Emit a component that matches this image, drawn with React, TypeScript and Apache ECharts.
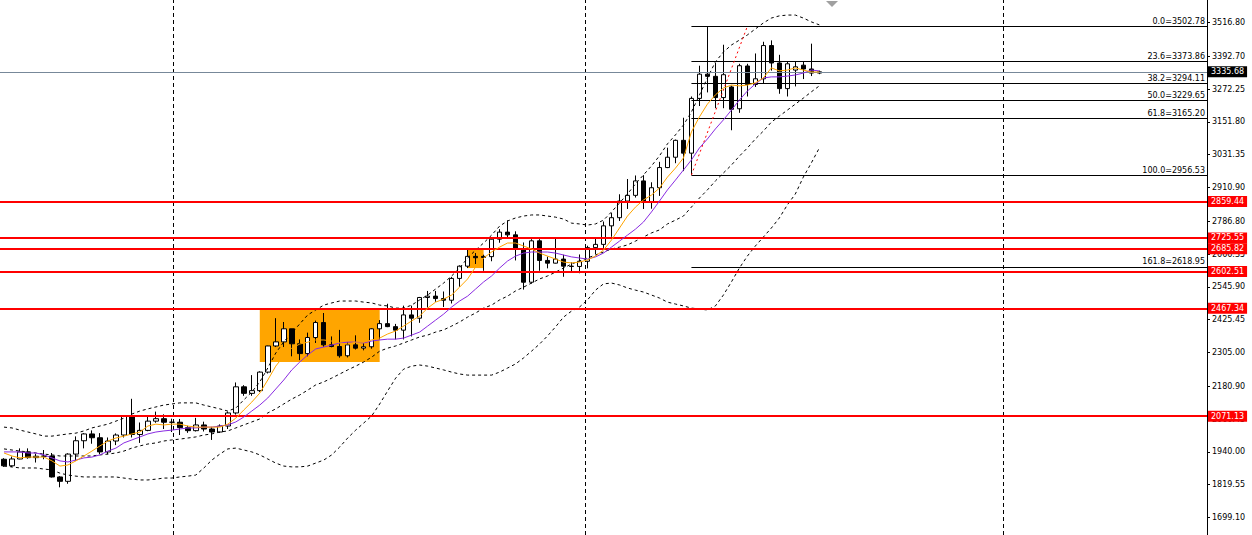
import React, { useEffect, useRef } from "react";
import * as echarts from "echarts";

// XAUUSD weekly candles (one per week, first week 2023-08-14)
const opens = [1913, 1889, 1914, 1940, 1919, 1924, 1925, 1848, 1832, 1932, 1981, 2006, 1992, 1940, 1980, 2002, 2072, 2004, 2019, 2053, 2062, 2049, 2049, 2029, 2018, 2039, 2024, 2013, 2035, 2083, 2179, 2155, 2165, 2233, 2329, 2344, 2392, 2337, 2301, 2360, 2415, 2333, 2327, 2293, 2333, 2321, 2326, 2392, 2411, 2400, 2387, 2443, 2431, 2507, 2512, 2503, 2497, 2577, 2622, 2658, 2658, 2657, 2721, 2747, 2737, 2685, 2563, 2715, 2643, 2633, 2648, 2622, 2621, 2640, 2690, 2702, 2770, 2800, 2861, 2882, 2935, 2858, 2910, 2984, 3022, 3084, 3037, 3238, 3327, 3319, 3241, 3280, 3200, 3357, 3289, 3310, 3432, 3368, 3274, 3342, 3360, 3346, 3331];
const closes = [1889, 1914, 1940, 1919, 1924, 1925, 1848, 1832, 1932, 1981, 2006, 1992, 1940, 1980, 2002, 2072, 2004, 2019, 2053, 2062, 2049, 2049, 2029, 2018, 2039, 2024, 2013, 2035, 2083, 2179, 2155, 2165, 2233, 2329, 2344, 2392, 2337, 2301, 2360, 2415, 2333, 2327, 2293, 2333, 2321, 2326, 2392, 2411, 2400, 2387, 2443, 2431, 2507, 2512, 2503, 2497, 2577, 2622, 2658, 2653, 2654, 2721, 2747, 2737, 2685, 2563, 2715, 2643, 2633, 2648, 2622, 2621, 2640, 2690, 2702, 2770, 2800, 2861, 2882, 2935, 2858, 2910, 2984, 3022, 3084, 3037, 3238, 3327, 3319, 3241, 3325, 3198, 3358, 3289, 3310, 3432, 3368, 3274, 3365, 3354, 3346, 3331, 3335.68];
const lows = [1885, 1884, 1913, 1915, 1901, 1913, 1846, 1810, 1823, 1908, 1953, 1970, 1932, 1931, 1965, 1993, 1993, 1973, 2016, 2047, 2024, 2013, 2002, 2010, 2015, 2015, 1984, 2010, 2024, 2077, 2146, 2146, 2160, 2228, 2325, 2325, 2291, 2277, 2291, 2340, 2326, 2324, 2286, 2287, 2316, 2313, 2319, 2353, 2398, 2353, 2353, 2364, 2414, 2470, 2491, 2472, 2485, 2546, 2615, 2630, 2605, 2640, 2708, 2722, 2643, 2536, 2558, 2605, 2614, 2632, 2583, 2602, 2596, 2614, 2666, 2689, 2730, 2788, 2832, 2874, 2832, 2833, 2880, 2982, 3000, 2971, 2957, 3210, 3260, 3202, 3202, 3121, 3185, 3245, 3280, 3294, 3340, 3255, 3245, 3282, 3309, 3320, 3327];
const highs = [1917, 1923, 1953, 1953, 1933, 1947, 1936, 1851, 1935, 1997, 2009, 2019, 2009, 1993, 2008, 2075, 2135, 2048, 2070, 2088, 2078, 2062, 2061, 2036, 2065, 2051, 2032, 2041, 2088, 2195, 2185, 2222, 2236, 2330, 2431, 2417, 2392, 2353, 2378, 2422, 2450, 2364, 2388, 2342, 2368, 2339, 2394, 2424, 2484, 2410, 2477, 2477, 2509, 2531, 2531, 2529, 2582, 2625, 2685, 2670, 2664, 2722, 2758, 2790, 2750, 2709, 2721, 2721, 2657, 2726, 2664, 2636, 2665, 2697, 2725, 2786, 2817, 2886, 2942, 2955, 2956, 2930, 3005, 3057, 3087, 3167, 3245, 3358, 3500, 3368, 3435, 3285, 3365, 3365, 3403, 3446, 3451, 3398, 3373, 3375, 3375, 3439, 3340];

// Indicators (one value per candle)
const maFast = [1936, 1925, 1918, 1921, 1921, 1921, 1907, 1888, 1892, 1907, 1925, 1943, 1962, 1980, 1991, 1998, 2006, 2013, 2035, 2042, 2039, 2042, 2042, 2035, 2031, 2031, 2031, 2031, 2042, 2064, 2094, 2123, 2156, 2204, 2255, 2292, 2321, 2336, 2343, 2351, 2351, 2347, 2340, 2336, 2343, 2343, 2351, 2358, 2373, 2384, 2402, 2421, 2439, 2468, 2490, 2501, 2516, 2545, 2575, 2619, 2652, 2674, 2692, 2707, 2707, 2696, 2685, 2670, 2659, 2648, 2637, 2634, 2637, 2645, 2659, 2681, 2718, 2762, 2806, 2839, 2865, 2883, 2909, 2949, 2982, 3019, 3115, 3170, 3217, 3251, 3276, 3287, 3284, 3287, 3295, 3313, 3350, 3339, 3342, 3350, 3342, 3335, 3335];
const maSlow = [1940, 1940, 1940, 1936, 1936, 1929, 1918, 1907, 1903, 1910, 1918, 1921, 1929, 1943, 1954, 1973, 1984, 1995, 2006, 2013, 2017, 2020, 2024, 2028, 2028, 2031, 2031, 2035, 2039, 2050, 2068, 2090, 2112, 2138, 2171, 2204, 2241, 2270, 2296, 2318, 2325, 2332, 2340, 2343, 2343, 2340, 2347, 2351, 2354, 2354, 2358, 2369, 2380, 2402, 2424, 2446, 2472, 2494, 2512, 2538, 2564, 2586, 2615, 2641, 2659, 2670, 2674, 2674, 2674, 2670, 2663, 2656, 2652, 2648, 2656, 2670, 2692, 2714, 2736, 2758, 2784, 2821, 2861, 2902, 2938, 2975, 3012, 3056, 3089, 3126, 3159, 3195, 3232, 3265, 3291, 3313, 3317, 3317, 3320, 3324, 3331, 3342, 3339];
const bbUpper = [2031, 2028, 2020, 2013, 2006, 1998, 1998, 2002, 2006, 2009, 2017, 2028, 2035, 2042, 2053, 2064, 2079, 2090, 2098, 2105, 2112, 2116, 2120, 2120, 2120, 2112, 2105, 2098, 2090, 2101, 2131, 2160, 2197, 2248, 2303, 2344, 2377, 2410, 2443, 2461, 2479, 2487, 2494, 2494, 2494, 2490, 2487, 2479, 2476, 2468, 2468, 2479, 2498, 2516, 2538, 2560, 2586, 2615, 2652, 2681, 2707, 2736, 2769, 2788, 2799, 2806, 2810, 2810, 2806, 2802, 2795, 2780, 2777, 2773, 2777, 2791, 2821, 2854, 2887, 2924, 2957, 2990, 3027, 3071, 3104, 3140, 3188, 3250, 3313, 3372, 3408, 3434, 3452, 3471, 3493, 3515, 3533, 3541, 3544, 3544, 3533, 3519, 3508];
const bbMiddle = [1951, 1947, 1943, 1940, 1936, 1932, 1929, 1925, 1925, 1925, 1925, 1925, 1929, 1932, 1936, 1943, 1954, 1962, 1969, 1973, 1980, 1984, 1987, 1991, 1995, 2002, 2006, 2013, 2017, 2028, 2039, 2050, 2061, 2083, 2098, 2116, 2134, 2149, 2167, 2186, 2197, 2211, 2226, 2241, 2255, 2270, 2288, 2310, 2321, 2329, 2340, 2351, 2362, 2369, 2380, 2388, 2402, 2417, 2435, 2450, 2468, 2479, 2498, 2512, 2531, 2545, 2560, 2575, 2586, 2600, 2615, 2630, 2641, 2652, 2663, 2674, 2685, 2692, 2700, 2714, 2729, 2744, 2755, 2777, 2791, 2806, 2839, 2872, 2902, 2935, 2964, 2993, 3026, 3056, 3089, 3118, 3151, 3173, 3195, 3217, 3239, 3262, 3284];
const bbLower = [1888, 1885, 1881, 1881, 1881, 1877, 1874, 1862, 1855, 1851, 1848, 1848, 1848, 1848, 1848, 1844, 1840, 1837, 1837, 1840, 1844, 1844, 1848, 1851, 1855, 1881, 1910, 1932, 1951, 1954, 1947, 1940, 1929, 1914, 1899, 1888, 1885, 1885, 1888, 1899, 1910, 1929, 1958, 1991, 2020, 2046, 2072, 2116, 2164, 2211, 2244, 2255, 2259, 2255, 2248, 2241, 2233, 2226, 2222, 2222, 2222, 2222, 2233, 2248, 2263, 2285, 2310, 2336, 2366, 2399, 2435, 2457, 2472, 2498, 2534, 2557, 2560, 2553, 2542, 2534, 2527, 2516, 2505, 2490, 2483, 2476, 2468, 2465, 2461, 2476, 2516, 2564, 2615, 2659, 2696, 2729, 2762, 2799, 2847, 2887, 2949, 3001, 3056];

// Price axis
const Y_MIN = 1634.9;
const Y_MAX = 3599.3;
const yTicks = [3516.8, 3392.7, 3272.25, 3151.8, 3031.35, 2910.9, 2786.8, 2666.35, 2545.9, 2425.45, 2305.0, 2180.9, 2060.45, 1940.0, 1819.55, 1699.1];

// Horizontal support / resistance levels
const levels = [2859.44, 2725.55, 2685.82, 2602.51, 2467.34, 2071.13];
const currentPrice = 3335.68;

// Fibonacci retracement
const fibRatios = ["0.0", "23.6", "38.2", "50.0", "61.8", "100.0", "161.8"];
const fibValues = [3502.78, 3373.86, 3294.11, 3229.65, 3165.2, 2956.53, 2618.95];
const fibStart = 86;
const fibTrend = [[86, 2956.53], [93, 3502.78]];

// Highlighted consolidation zones [fromIdx, toIdx, top, bottom]
const zones = [[32, 47, 2467, 2270], [58, 60, 2685, 2615]];

// Year separators (week positions)
const separators = [21.125, 72.75, 125];

const SLOT_COUNT = 151;
const FIRST_WEEK = Date.UTC(2023, 7, 14);
const weeks = Array.from({ length: SLOT_COUNT }, (_, i) =>
  new Date(FIRST_WEEK + i * 7 * 864e5).toISOString().slice(0, 10)
);

const FONT = "DejaVu Sans";

export default function App() {
  const ref = useRef<HTMLDivElement>(null);
  useEffect(() => {
    if (!ref.current) return;
    const chart = echarts.init(ref.current, undefined, { renderer: "svg" });
    const candles = opens.map((o, i) => [o, closes[i], lows[i], highs[i]]);
    const option: any = {
      animation: false,
      backgroundColor: "#ffffff",
      grid: { left: -1, top: 0, width: 1208, height: 535, show: false },
      xAxis: [
        { type: "category", data: weeks, boundaryGap: true, show: false },
        { type: "value", min: -0.5, max: SLOT_COUNT - 0.5, show: false },
      ],
      yAxis: {
        type: "value",
        position: "right",
        min: Y_MIN,
        max: Y_MAX,
        axisLine: { show: true, onZero: false, lineStyle: { color: "#000", width: 1 } },
        axisTick: { show: true, customValues: yTicks, length: 3, lineStyle: { color: "#000" } },
        axisLabel: {
          customValues: yTicks,
          formatter: (v: number) => v.toFixed(2),
          color: "#000",
          fontFamily: FONT,
          fontSize: 8,
          margin: 5,
          padding: [3, 0, 0, 0],
        },
        splitLine: { show: false },
      },
      graphic: [
        {
          type: "polygon",
          shape: { points: [[826, 1], [838, 1], [832, 7]] },
          style: { fill: "#a0a0a0" },
          z: 100,
        },
      ],
      series: [
        {
          type: "line",
          xAxisIndex: 1,
          data: [],
          z: 1,
          markArea: {
            silent: true,
            itemStyle: { color: "#FFA500", opacity: 1 },
            data: zones.map((z) => [{ coord: [z[0], z[2]] }, { coord: [z[1], z[3]] }]),
          },
        },
        {
          type: "line",
          xAxisIndex: 1,
          data: [],
          z: 2,
          markLine: {
            silent: true,
            symbol: "none",
            label: { show: false },
            lineStyle: { color: "#000", width: 1, type: [4, 3] },
            data: separators.map((x) => ({ xAxis: x })),
          },
        },
        {
          type: "line",
          data: [],
          z: 2,
          markLine: {
            silent: true,
            symbol: "none",
            lineStyle: { color: "#778899", width: 1, type: "solid" },
            label: {
              show: true,
              position: "end",
              distance: 1,
              backgroundColor: "#000",
              color: "#fff",
              padding: [2, 3, 1, 3],
              fontFamily: FONT,
              fontSize: 8,
              formatter: (p: any) => Number(p.value).toFixed(2),
            },
            data: [{ yAxis: currentPrice }],
          },
        },
        {
          type: "candlestick",
          data: candles,
          barWidth: 5,
          z: 3,
          itemStyle: {
            color: "#ffffff",
            color0: "#000000",
            borderColor: "#000000",
            borderColor0: "#000000",
            borderColorDoji: "#000000",
            borderWidth: 1,
          },
        },
        {
          type: "line",
          data: bbUpper,
          symbol: "none",
          z: 4,
          lineStyle: { color: "#000", width: 1, type: [3, 3] },
        },
        {
          type: "line",
          data: bbMiddle,
          symbol: "none",
          z: 4,
          lineStyle: { color: "#000", width: 1, type: [3, 3] },
        },
        {
          type: "line",
          data: bbLower,
          symbol: "none",
          z: 4,
          lineStyle: { color: "#000", width: 1, type: [3, 3] },
        },
        {
          type: "line",
          data: maSlow,
          symbol: "none",
          z: 5,
          lineStyle: { color: "#8A2BE2", width: 1 },
        },
        {
          type: "line",
          data: maFast,
          symbol: "none",
          z: 5,
          lineStyle: { color: "#FFA500", width: 1 },
        },
        {
          type: "line",
          xAxisIndex: 1,
          data: fibTrend,
          symbol: "none",
          z: 5,
          lineStyle: { color: "#FF0000", width: 1, type: [2, 3] },
        },
        {
          type: "line",
          xAxisIndex: 1,
          data: [],
          z: 6,
          markLine: {
            silent: true,
            symbol: "none",
            lineStyle: { color: "#000", width: 1, type: "solid" },
            label: {
              show: true,
              position: "insideEndTop",
              distance: [2, 1],
              color: "#000",
              fontFamily: FONT,
              fontSize: 8,
              formatter: "{b}",
            },
            data: fibValues.map((v, k) => [
              { name: `${fibRatios[k]}=${v.toFixed(2)}`, coord: [fibStart, v] },
              { coord: [SLOT_COUNT - 0.5, v] },
            ]),
          },
        },
        {
          type: "line",
          data: [],
          z: 7,
          markLine: {
            silent: true,
            symbol: "none",
            lineStyle: { color: "#FF0000", width: 2, type: "solid" },
            label: {
              show: true,
              position: "end",
              distance: 1,
              backgroundColor: "#FF0000",
              color: "#fff",
              padding: [2, 3, 1, 3],
              fontFamily: FONT,
              fontSize: 8,
              formatter: (p: any) => Number(p.value).toFixed(2),
            },
            data: levels.map((v) => ({ yAxis: v })),
          },
        },
      ],
    };
    chart.setOption(option);
    return () => chart.dispose();
  }, []);
  return (
    <div
      ref={ref}
      style={{ position: "absolute", left: 0, top: 0, width: 1252, height: 535, background: "#fff" }}
    />
  );
}
